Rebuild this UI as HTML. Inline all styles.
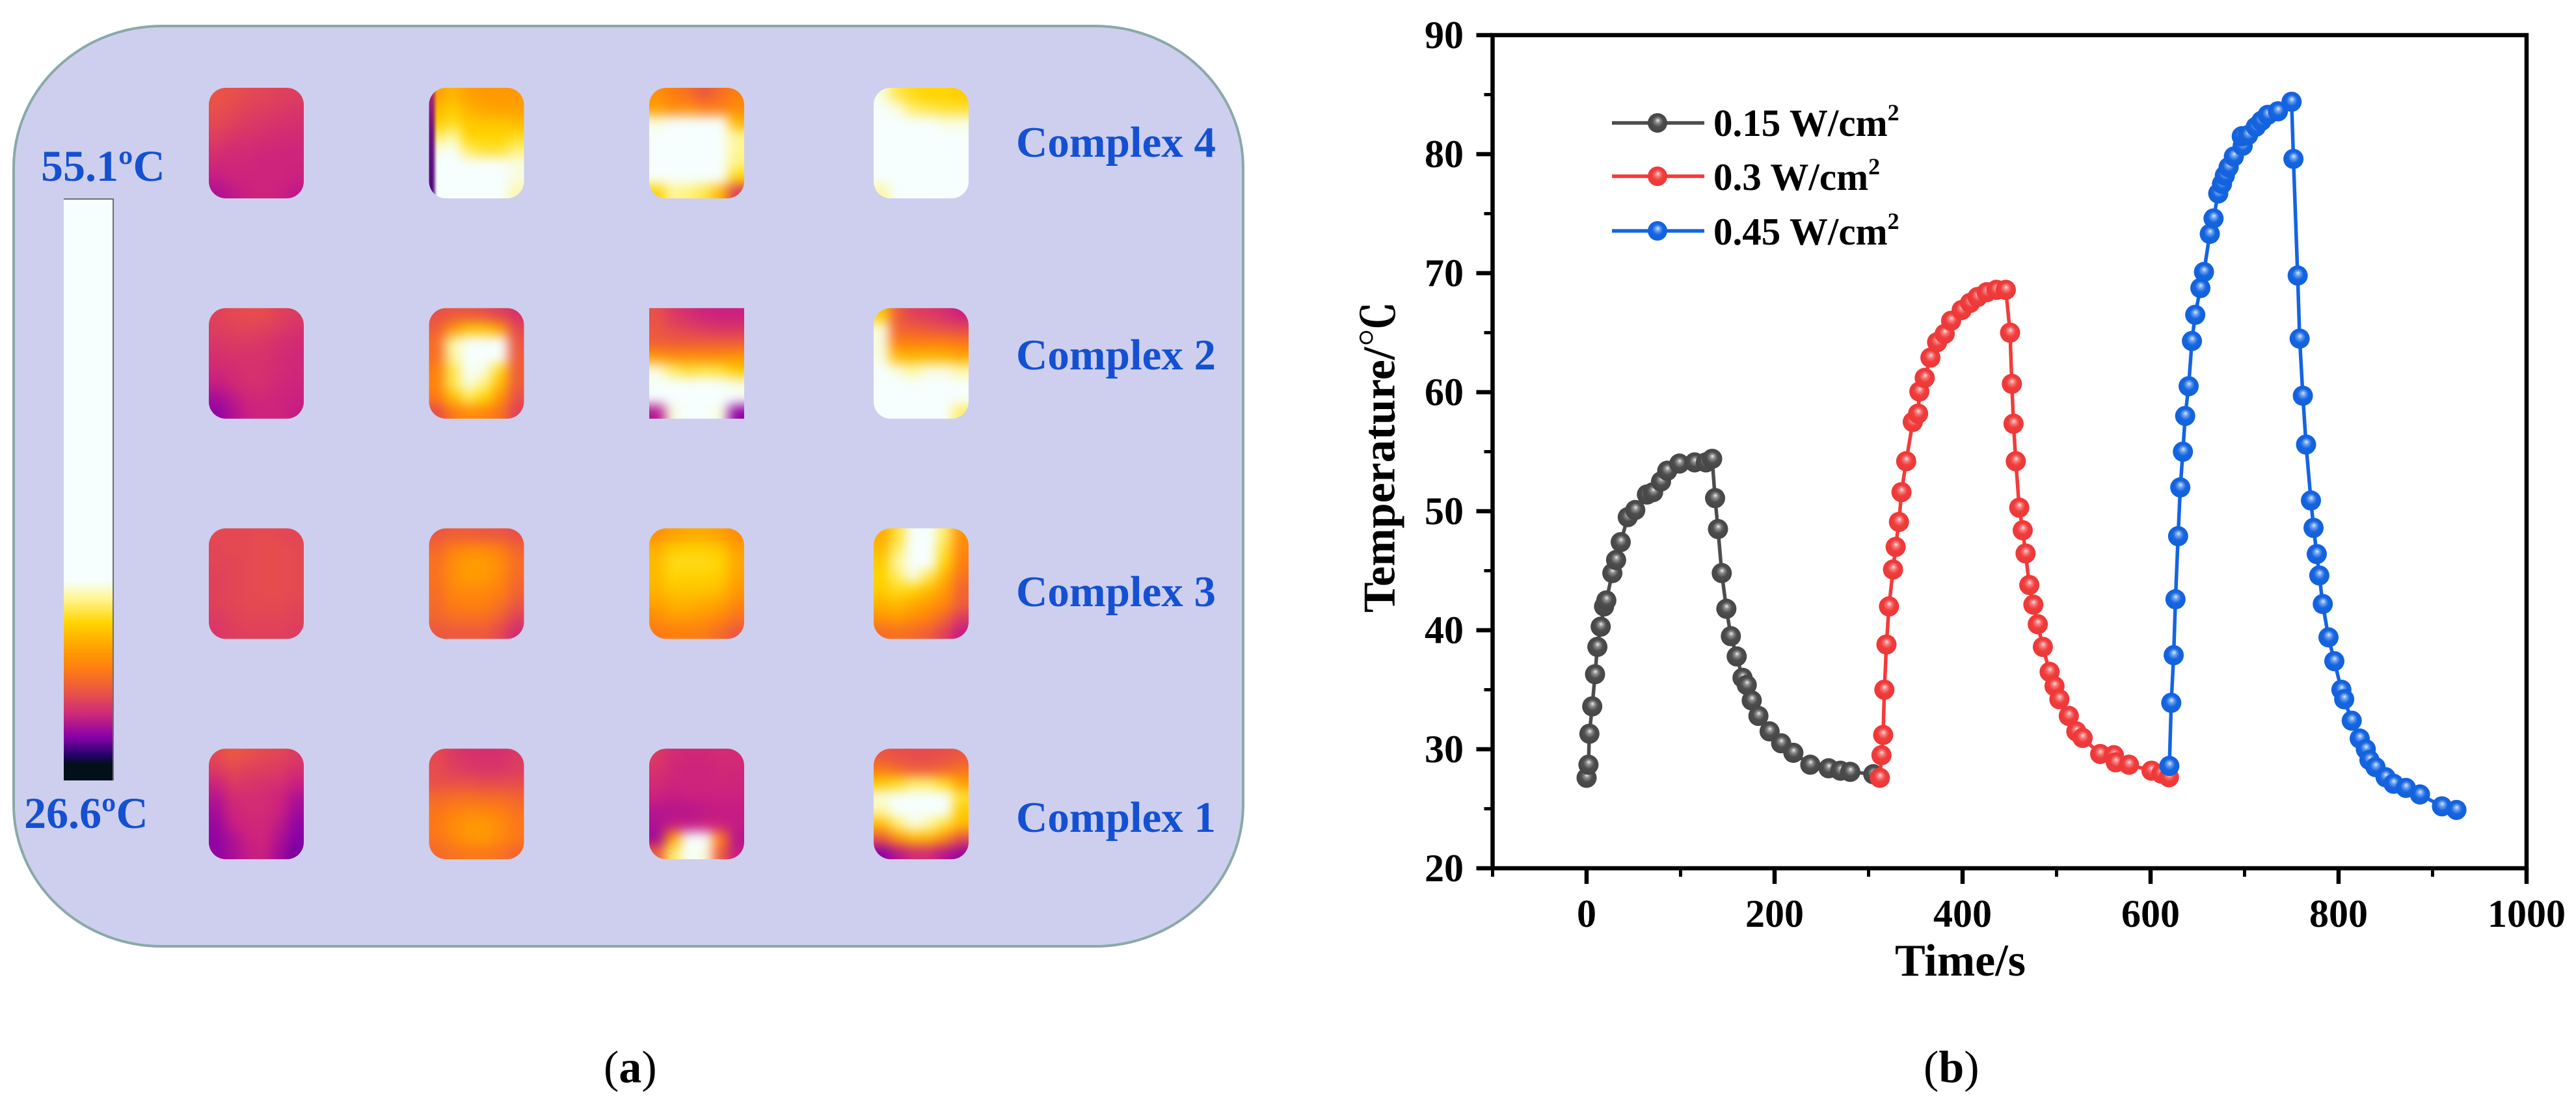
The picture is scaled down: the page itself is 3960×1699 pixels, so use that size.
<!DOCTYPE html>
<html lang="en">
<head>
<meta charset="utf-8">
<title>Photothermal images and heating curves</title>
<style>
html,body{margin:0;padding:0;background:#fff;width:3960px;height:1699px;overflow:hidden}
svg{display:block}
text{font-family:"Liberation Serif","Noto Serif CJK SC",serif;font-weight:bold}
.blue{fill:#1450d2}
.blk{fill:#000}
</style>
</head>
<body>
<svg id="fig" xmlns="http://www.w3.org/2000/svg" width="3960" height="1699" viewBox="0 0 3960 1699">
<defs>
<filter id="heatBlur" x="-30%" y="-30%" width="160%" height="160%" color-interpolation-filters="sRGB"><feGaussianBlur stdDeviation="9"/></filter>
<filter id="edgeBlur" x="-100%" y="-10%" width="300%" height="120%" color-interpolation-filters="sRGB"><feGaussianBlur stdDeviation="2.5"/></filter>
<linearGradient id="stripeFill" x1="0" y1="0" x2="0" y2="1"><stop offset="0" stop-color="#b02a70"/><stop offset="0.4" stop-color="#6a1080"/><stop offset="1" stop-color="#4a0a78"/></linearGradient>
<linearGradient id="cbar" gradientUnits="userSpaceOnUse" x1="0" y1="305" x2="0" y2="1200">
<stop offset="0" stop-color="#f6fffe"/><stop offset="0.657" stop-color="#f6fffe"/><stop offset="0.690" stop-color="#fff58a"/><stop offset="0.729" stop-color="#ffd400"/><stop offset="0.774" stop-color="#ffa000"/><stop offset="0.807" stop-color="#ff7f10"/><stop offset="0.852" stop-color="#e8504a"/><stop offset="0.886" stop-color="#cc2a7a"/><stop offset="0.925" stop-color="#8a00a8"/><stop offset="0.955" stop-color="#2a0070"/><stop offset="0.972" stop-color="#02101a"/><stop offset="1" stop-color="#02101a"/>
</linearGradient>
<radialGradient id="ballGrey" cx="0.5" cy="0.5" r="0.55" fx="0.52" fy="0.36"><stop offset="0" stop-color="#eeeeee"/><stop offset="0.22" stop-color="#8d8d8d"/><stop offset="0.5" stop-color="#4d4d4d"/><stop offset="1" stop-color="#444"/></radialGradient>
<radialGradient id="ballRed" cx="0.5" cy="0.5" r="0.55" fx="0.52" fy="0.36"><stop offset="0" stop-color="#ffe0e0"/><stop offset="0.22" stop-color="#f77d7d"/><stop offset="0.5" stop-color="#f03c3c"/><stop offset="1" stop-color="#ee3636"/></radialGradient>
<radialGradient id="ballBlue" cx="0.5" cy="0.5" r="0.55" fx="0.52" fy="0.36"><stop offset="0" stop-color="#dce9ff"/><stop offset="0.22" stop-color="#6ba0ef"/><stop offset="0.5" stop-color="#1565e0"/><stop offset="1" stop-color="#1260dc"/></radialGradient>
</defs>

<rect x="21" y="40" width="1890" height="1415" rx="228" ry="218" fill="#cecfee" stroke="#8aa9a8" stroke-width="4"/>
<rect x="98" y="305" width="76" height="895" fill="url(#cbar)"/>
<path d="M98 306H174V1200" fill="none" stroke="#6f6f6f" stroke-width="2"/>
<text class="blue" x="63" y="278" font-size="68">55.1ºC</text>
<text class="blue" x="37" y="1273" font-size="68">26.6ºC</text>
<text class="blue" x="1562" y="241" font-size="67">Complex 4</text>
<text class="blue" x="1562" y="568" font-size="67">Complex 2</text>
<text class="blue" x="1562" y="932" font-size="67">Complex 3</text>
<text class="blue" x="1562" y="1279" font-size="67">Complex 1</text>
<g id="tiles"></g>

<text class="blk" x="928" y="1664" font-size="70"><tspan font-weight="normal">(</tspan>a<tspan font-weight="normal">)</tspan></text>
<text class="blk" x="2957" y="1664" font-size="70"><tspan font-weight="normal">(</tspan>b<tspan font-weight="normal">)</tspan></text>

<g id="axes"></g>
<g id="plot"></g>

<text class="blk" font-size="70" transform="translate(2143.5 942) rotate(-90)">Temperature/℃</text>
<text class="blk" x="2913" y="1500" font-size="70">Time/s</text>

<g>
<text class="blk" x="2634" y="209" font-size="59">0.15 W/cm<tspan dy="-24" font-size="36">2</tspan></text>
<text class="blk" x="2634" y="292" font-size="59">0.3 W/cm<tspan dy="-24" font-size="36">2</tspan></text>
<text class="blk" x="2634" y="376" font-size="59">0.45 W/cm<tspan dy="-24" font-size="36">2</tspan></text>
<line x1="2478" x2="2620" y1="189" y2="189" stroke="#4d4d4d" stroke-width="5.5"/>
<circle cx="2548" cy="189" r="15" fill="url(#ballGrey)"/>
<line x1="2478" x2="2620" y1="271" y2="271" stroke="#f43a3a" stroke-width="5.5"/>
<circle cx="2548" cy="271" r="15" fill="url(#ballRed)"/>
<line x1="2478" x2="2620" y1="355" y2="355" stroke="#1464e4" stroke-width="5.5"/>
<circle cx="2548" cy="355" r="15" fill="url(#ballBlue)"/>
</g>

<script>
// ---------- Chart data ----------
const xTickValues = [-100,0,100,200,300,400,500,600,700,800,900,1000];
const xTickLabels = ['0','200','400','600','800','1000'];
const yTickValues = [20,25,30,35,40,45,50,55,60,65,70,75,80,85,90];
const yTickLabels = ['20','30','40','50','60','70','80','90'];

const greyTimes = [0,2,3,6,9,11.5,15,18.6,21,27.4,31.4,36.3,43.8,51.8,64.2,70.8,79.2,85.8,98.7,115,127,133.6,136.7,139.8,143.8,148.7,153.5,159.7,165.9,170.4,175.7,182.8,194.7,207,220,238,257.5,270,280.5,305];
const greyTemps = [27.6,28.7,31.3,33.6,36.3,38.6,40.3,42.0,42.5,44.8,45.9,47.4,49.5,50.1,51.4,51.6,52.5,53.4,54.0,54.1,54.1,54.4,51.1,48.5,44.8,41.8,39.5,37.8,36.0,35.4,34.1,32.8,31.5,30.5,29.7,28.7,28.4,28.2,28.1,27.9];

const redTimes = [312,313.7,315.5,316.8,319,321.7,326,328.8,332.3,335,340,347,352.7,354,359.7,365.8,372.9,381,387.8,399,408,416,425.7,436,446,450.5,452.4,454.2,456.6,460.3,464,467,471,475.3,480,485.4,492.6,497.8,503,513,521,527.7,546.4,561,563,577,601,611.5,619.5];
const redTemps = [27.6,29.5,31.2,35.0,38.8,42.0,45.1,47.0,49.1,51.6,54.2,57.5,58.2,60.05,61.2,62.9,64.2,64.9,66.0,66.9,67.5,68.0,68.4,68.6,68.6,65.0,60.7,57.35,54.2,50.3,48.4,46.45,43.8,42.15,40.5,38.6,36.5,35.3,34.2,32.8,31.5,30.95,29.6,29.5,28.9,28.7,28.2,27.95,27.65];

const blueTimes = [620,622,624.6,626.5,629.3,631.6,634.4,636.8,640.5,644,647.5,653,656.8,663,667,672,676,679,683,688.6,698,697,703.7,712,718,724.7,735.5,750,752,756.5,758.6,762,765.4,770.6,773.4,776.8,779.5,783.2,789.3,795.5,803,806,814,822.5,829,832.8,839.3,850,858.5,871.6,886.6,910,925.4];
const blueTemps = [28.6,33.9,37.9,42.6,47.9,52.0,55.0,58.0,60.5,64.3,66.5,68.75,70.1,73.3,74.6,76.7,77.5,78.2,78.9,79.8,80.7,81.5,81.6,82.3,82.8,83.3,83.6,84.4,79.6,69.8,64.5,59.7,55.6,50.9,48.6,46.4,44.6,42.2,39.4,37.4,35.0,34.2,32.4,30.9,30.0,29.1,28.5,27.65,27.1,26.75,26.2,25.2,24.9];

// ---------- Thermal image data (°C, 6 cols x 8 rows, row major) ----------
const complex4Low = [30.7,30.6,30.4,30.3,30.2,30.1, 30.6,30.4,30.2,30.1,30.0,29.9, 30.4,30.2,30.0,29.9,29.8,29.7, 30.1,29.9,29.8,29.7,29.6,29.6, 29.8,29.6,29.6,29.5,29.5,29.4, 29.5,29.5,29.5,29.4,29.4,29.4, 29.2,29.4,29.4,29.4,29.4,29.3, 28.9,29.1,29.3,29.4,29.3,29.1];
const complex4Mid = [33,33.5,33,32.8,32.8,32.8, 33.5,34,33.4,33.1,33,33, 34,34.4,33.9,33.8,33.8,33.6, 35,35.5,34.2,34.2,34.2,34.4, 36,37,35,34.6,34.6,35.2, 36.5,38,38,38,38,36, 36.5,38,38,38,38,36, 36.5,38,38,38,38,35.6];
const complex4High = [32.5,32,31.5,30.8,31.5,32, 33,32.4,32.5,32,32,32.4, 36,37,37,37,36.5,33.5, 38,38,38,38,38,35.4, 38,38,38,38,38,35.4, 38,38,38,38,38,35.2, 37,38,38,38,38,34.2, 34.2,35.4,35.2,34.8,33.5,30];
const complex4Max = [36,34.8,34.4,34.2,34.2,34, 38,36,35,34.8,34.6,34.6, 38,38,38,37,36,36, 38,38,38,38,38,38, 38,38,38,38,38,38, 38,38,38,38,38,38, 36.5,38,38,38,38,38, 35.5,38,38,38,38,37];
const complex2Low = [30.2,30.4,30.5,30.5,30.2,30.0, 30.1,30.2,30.3,30.2,30,29.8, 29.9,30,30,29.9,29.7,29.6, 29.7,29.8,29.8,29.8,29.6,29.5, 29.5,29.6,29.8,29.7,29.6,29.5, 29.2,29.5,29.7,29.7,29.5,29.4, 28.8,29.1,29.5,29.5,29.4,29.3, 28.5,28.9,29.3,29.4,29.4,29.2];
const complex2Mid = [30.6,30.8,30.8,30.6,30.2,29.8, 31,32.6,33.8,33.8,33,30.4, 31.5,35.5,38,38,37,30.8, 31.5,35.5,38,38,37,31, 32,34.8,38,36,34.4,31, 32.2,34.8,36,35.2,33.6,31, 31.8,33.6,34.8,34.2,32.6,30.6, 30.5,31.8,32.4,32.2,31.6,30.2];
const complex2High = [30.6,30,29.7,29.4,29.3,29.3, 30.8,30.4,30.2,30,29.9,29.9, 31,31,31,31,31,31, 32.8,32.4,32.4,32.4,32.4,32.6, 36,35,34.6,34.8,34.6,34, 38,38,38,38,38,36, 38,38,38,38,38,36.5, 29,36,38,38,36,28.5];
const complex2Max = [34,31,30.2,30,29.7,29.3, 36,31.2,31,30.8,30.6,30.4, 36,32,32,32,32,31.8, 36,33.6,33.5,33.6,33.5,33.2, 38,36,35.5,36,36,35.5, 38,38,38,38,38,38, 38,38,38,38,38,37, 37,38,38,38,38,35];
const complex3Low = [30.4,30.4,30.4,30.5,30.4,30.3, 30.3,30.4,30.4,30.5,30.5,30.4, 30.3,30.3,30.4,30.5,30.5,30.4, 30.2,30.3,30.4,30.5,30.5,30.4, 30.2,30.3,30.4,30.5,30.5,30.4, 30.2,30.3,30.4,30.4,30.4,30.3, 30.0,30.2,30.3,30.3,30.3,30.2, 29.9,30.1,30.2,30.2,30.2,30.1];
const complex3Mid = [30.8,31,31,30.9,30.8,30.6, 31.3,32,32.3,32.3,32,31.2, 31.6,32.4,32.9,32.9,32.4,31.5, 31.6,32.4,32.9,32.8,32.3,31.4, 31.5,32.2,32.4,32.3,32,31.2, 31.4,31.9,32,32,31.6,30.8, 31.2,31.5,31.5,31.5,31,30.2, 30.8,30.9,30.9,30.9,30.4,29.6];
const complex3High = [32.5,33,33.2,33.2,33,32.4, 33.4,34,34.1,34.1,33.9,33, 33.6,34.4,34.4,34.4,34.2,33.2, 33.6,34.2,34.1,34.1,34,33.1, 33.4,33.8,33.8,33.8,33.6,32.8, 33,33.4,33.4,33.2,33,32.2, 32.4,32.8,32.8,32.6,32.2,31.6, 31.8,32,32,31.9,31.4,30.8];
const complex3Max = [33.2,34.6,36.5,38,35,32.5, 33.6,35,37,38,34.6,32.2, 34,35.5,38,37.5,34.2,32, 34.2,35,36,34.8,33.4,31.6, 34,34.4,34.2,33.6,32.8,31.2, 33.4,33.6,33.2,32.8,32.2,31, 32.6,32.8,32.4,32,31.2,30, 31.4,31.6,31.4,31,30.2,29.2];
const complex1Low = [30.4,30.8,30.6,30.4,30.3,30, 30,30.4,30.2,30.1,30,29.7, 29.4,30,29.9,29.8,29.7,29.3, 29,29.6,29.7,29.6,29.4,28.9, 28.8,29.4,29.6,29.6,29.3,28.7, 28.6,29.2,29.5,29.5,29.1,28.5, 28.5,28.9,29.3,29.4,28.9,28.4, 28.5,28.8,29.2,29.3,28.7,28.3];
const complex1Mid = [30.4,30,29.8,29.7,29.7,30, 30.5,30.2,30,29.9,29.9,30.1, 30.6,30.6,30.6,30.5,30.5,30.5, 31.3,31.5,31.5,31.4,31.4,31.2, 31.7,32,32.2,32.2,32,31.6, 31.8,32.4,32.8,32.8,32.4,31.8, 31.7,32.2,32.6,32.8,32.3,31.8, 31.3,31.6,31.8,31.8,31.6,31.2];
const complex1High = [30,29.6,29.5,29.5,29.6,29.6, 29.8,29.5,29.4,29.4,29.5,29.5, 29.6,29.4,29.4,29.4,29.5,29.4, 29.3,29.2,29.3,29.3,29.3,29.3, 29,29,29,29.1,29.2,29.2, 28.9,29.2,29.2,29.3,29.3,29.2, 28.7,33,38,38,32,29, 31,35,38,36,31,29.2];
const complex1Max = [30.8,30.6,30.5,30.5,30.6,30.8, 31.8,31.4,31,31,31.2,31.6, 34,34.4,35,35,34.4,33, 36,38,38,38,38,34.6, 35.5,38,38,38,38,34, 33.6,35,36,35.5,34.6,33.6, 30.8,32.6,33.6,33.5,32.4,30.6, 28.4,29,29.6,29.6,29,28.6];

const tileGrid = [
  complex4Low, complex4Mid, complex4High, complex4Max,
  complex2Low, complex2Mid, complex2High, complex2Max,
  complex3Low, complex3Mid, complex3High, complex3Max,
  complex1Low, complex1Mid, complex1High, complex1Max
];
const scaleTemps = [26.6,27.4,27.9,28.4,29.3,30.6,32.0,33.0,34.2,35.3,36.25,60];
const scaleColors = [[2,16,26],[2,16,26],[42,0,112],[138,0,168],[204,32,128],[232,80,74],[255,127,16],[255,160,0],[255,212,0],[255,245,138],[246,255,254],[246,255,254]];

// ---------- Axis functions ----------
const SVGNS = 'http://www.w3.org/2000/svg';
function xScale(t){ return 2439 + t * 1.445; }
function yScale(v){ return 1335 - (v - 20) * 18.3; }
function tempColor(v){
  for (let i = 0; i < scaleTemps.length - 1; i++) {
    if (v <= scaleTemps[i + 1]) {
      const f = Math.max(0, (v - scaleTemps[i]) / (scaleTemps[i + 1] - scaleTemps[i]));
      const c = scaleColors[i].map(function(a, k){ return Math.round(a + (scaleColors[i + 1][k] - a) * f); });
      return 'rgb(' + c.join(',') + ')';
    }
  }
  return 'rgb(246,255,254)';
}
function mk(tag, attrs, parent){
  const el = document.createElementNS(SVGNS, tag);
  for (const k in attrs) el.setAttribute(k, attrs[k]);
  parent.appendChild(el);
  return el;
}

// ---------- Thermal tiles ----------
const tilesG = document.getElementById('tiles');
const defs = document.querySelector('defs');
const TILE_W = 146, TILE_H = 170, N_COLS = 6, N_ROWS = 8, OVER = 30;
tileGrid.forEach(function(cells, idx){
  const col = idx % 4, row = Math.floor(idx / 4);
  const tx = 321 + col * 338.5 + (col === 3 ? 6.5 : 0);
  const ty = 135 + row * 338.7;
  const square = idx === 6;
  const clip = mk('clipPath', {id: 'tileClip' + idx}, defs);
  mk('rect', {x: tx, y: ty, width: TILE_W, height: TILE_H, rx: square ? 0 : 26, ry: square ? 0 : 26}, clip);
  const outer = mk('g', {'clip-path': 'url(#tileClip' + idx + ')'}, tilesG);
  
  
  const inner = mk('g', {filter: 'url(#heatBlur)'}, outer);
  const cw = TILE_W / N_COLS, ch = TILE_H / N_ROWS;
  cells.forEach(function(v, i){
    const c = i % N_COLS, r = Math.floor(i / N_COLS);
    const x0 = tx + c * cw - (c === 0 ? OVER : 0);
    const y0 = ty + r * ch - (r === 0 ? OVER : 0);
    const x1 = tx + (c + 1) * cw + (c === N_COLS - 1 ? OVER : 0.5);
    const y1 = ty + (r + 1) * ch + (r === N_ROWS - 1 ? OVER : 0.5);
    const cell = mk('rect', {x: x0, y: y0, width: x1 - x0, height: y1 - y0, fill: tempColor(v)}, inner);
    
    
  });
  if (idx === 1) {
    const stripe = mk('rect', {x: tx - 6, y: ty, width: 15, height: TILE_H, fill: 'url(#stripeFill)', filter: 'url(#edgeBlur)'}, outer);
    
    
  }
});

// ---------- Axes ----------
const axesG = document.getElementById('axes');
const AXW = 6.5;
const frame = mk('path', {
  d: 'M' + xScale(-100) + ' ' + yScale(20) + 'V' + yScale(90) + 'H' + xScale(1000) + 'V' + yScale(20) + 'Z',
  fill: 'none', stroke: '#000', 'stroke-width': AXW
}, axesG);


yTickValues.forEach(function(v){
  const major = v % 10 === 0;
  const t = mk('line', {x1: xScale(-100) - (major ? 25 : 13), x2: xScale(-100), y1: yScale(v), y2: yScale(v), stroke: '#000', 'stroke-width': major ? AXW : 5}, axesG);
  
  
});
xTickValues.forEach(function(v){
  const major = v >= 0 && v % 200 === 0;
  const t = mk('line', {x1: xScale(v), x2: xScale(v), y1: yScale(20), y2: yScale(20) + (major ? 24 : 13), stroke: '#000', 'stroke-width': major ? AXW : 5}, axesG);
  
  
});
yTickLabels.forEach(function(s){
  const t = mk('text', {x: 2250, y: yScale(+s) + 20, 'text-anchor': 'end', 'font-size': 60, fill: '#000'}, axesG);
  t.textContent = s;
  
  
});
xTickLabels.forEach(function(s){
  const t = mk('text', {x: xScale(+s), y: 1425, 'text-anchor': 'middle', 'font-size': 60, fill: '#000'}, axesG);
  t.textContent = s;
  
  
});

// ---------- Series ----------
const plotG = document.getElementById('plot');
function drawSeries(name, times, temps, color, ball){
  const g = mk('g', {}, plotG);
  
  
  const pts = times.map(function(t, i){ return xScale(t).toFixed(1) + ',' + yScale(temps[i]).toFixed(1); }).join(' ');
  const line = mk('polyline', {points: pts, fill: 'none', stroke: color, 'stroke-width': 5.5, 'stroke-linejoin': 'round'}, g);
  
  
  times.forEach(function(t, i){
    const p = mk('circle', {cx: xScale(t), cy: yScale(temps[i]), r: 15.5, fill: 'url(#' + ball + ')'}, g);
    
    
  });
}
drawSeries('series-015-w-cm2', greyTimes, greyTemps, '#4d4d4d', 'ballGrey');
drawSeries('series-03-w-cm2', redTimes, redTemps, '#f43a3a', 'ballRed');
drawSeries('series-045-w-cm2', blueTimes, blueTemps, '#1464e4', 'ballBlue');
</script>
</svg>
</body>
</html>
